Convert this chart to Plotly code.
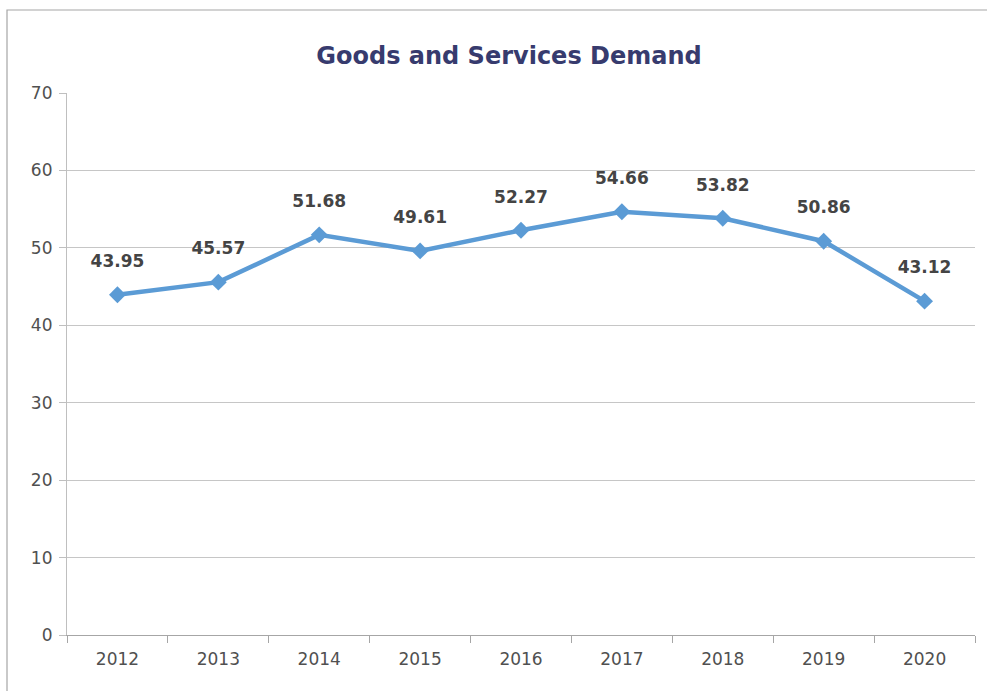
import plotly.graph_objects as go

years = ["2012", "2013", "2014", "2015", "2016", "2017", "2018", "2019", "2020"]
demand = [43.95, 45.57, 51.68, 49.61, 52.27, 54.66, 53.82, 50.86, 43.12]
title_text = "Goods and Services Demand"

W, H = 987, 691
L, R, T, B = 67, 12, 93, 56
pw, ph = W - L - R, H - T - B
FONT = "DejaVu Sans"

labels = ["<b>%.2f</b>" % v for v in demand]

fig = go.Figure()
fig.add_trace(go.Scatter(
    x=years, y=demand, mode="lines+markers",
    line=dict(color="#5b9bd5", width=4.5),
    marker=dict(symbol="diamond", size=13, color="#5b9bd5"),
    hoverinfo="x+y", showlegend=False, cliponaxis=False,
))
# data labels (invisible large markers push labels further above the points)
fig.add_trace(go.Scatter(
    x=years, y=demand, mode="markers+text",
    text=labels, textposition="top center",
    textfont=dict(family=FONT, size=17, color="#444444"),
    marker=dict(size=36, opacity=0),
    hoverinfo="skip", showlegend=False, cliponaxis=False,
))

shapes = [dict(type="rect", xref="paper", yref="paper",
               x0=(7 - L) / pw, x1=(W + 5 - L) / pw,
               y0=-(H + 5 - (H - B)) / ph, y1=1 + (T - 10) / ph,
               line=dict(color="#a6a6a6", width=1.2), layer="below")]

fig.update_layout(
    width=W, height=H,
    margin=dict(l=L, r=R, t=T, b=B),
    paper_bgcolor="white", plot_bgcolor="white",
    title=dict(text="<b>" + title_text + "</b>", x=509 / W, xanchor="center", y=1 - 56 / H, yanchor="middle",
               font=dict(family=FONT, size=24, color="#373b6e")),
    font=dict(family=FONT, size=17, color="#505050"),
    shapes=shapes,
)
fig.update_xaxes(
    type="category", range=[-0.5, 8.5], tickson="boundaries",
    ticks="outside", ticklen=7, tickcolor="#a6a6a6",
    showline=True, linecolor="#a6a6a6", linewidth=1.2,
    showgrid=False, ticklabelstandoff=8,
    tickfont=dict(family=FONT, size=17, color="#505050"),
)
fig.update_yaxes(
    range=[0, 70], dtick=10, ticks="outside", ticklen=7, tickcolor="#bfbfbf",
    showline=True, linecolor="#bfbfbf", linewidth=1.2,
    showgrid=True, gridcolor="#c6c6c6", gridwidth=1.2, zeroline=False,
    ticklabelstandoff=3,
    tickfont=dict(family=FONT, size=17, color="#505050"),
)

fig.write_html("out.html", config={"displayModeBar": False},
               post_script="document.body.style.margin='0';document.body.style.overflow='hidden';")
